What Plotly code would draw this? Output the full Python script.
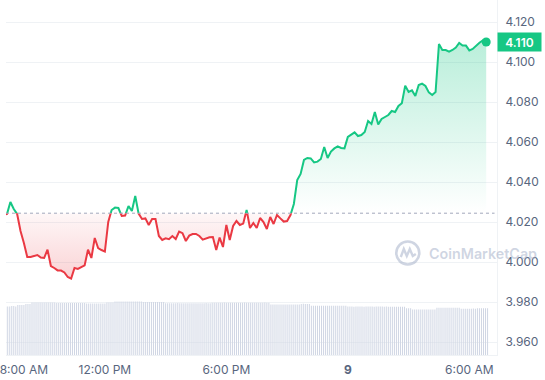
import pandas as pd
import plotly.graph_objects as go

# ---------------- data ----------------
open_price = 4.0244
last_price_label = "4.110"

price = [
    4.0235, 4.0240, 4.0300, 4.0265, 4.0240, 4.0155, 4.0095, 4.0025, 4.0025, 4.0030,
    4.0035, 4.0022, 4.0020, 4.0062, 3.9980, 3.9970, 3.9958, 3.9957, 3.9948, 3.9925,
    3.9917, 3.9970, 3.9965, 3.9974, 3.9983, 4.0062, 4.0020, 4.0120, 4.0070, 4.0060,
    4.0052, 4.0200, 4.0260, 4.0272, 4.0270, 4.0230, 4.0232, 4.0280, 4.0255, 4.0330,
    4.0242, 4.0215, 4.0218, 4.0185, 4.0215, 4.0215, 4.0130, 4.0110, 4.0118, 4.0114,
    4.0130, 4.0115, 4.0152, 4.0144, 4.0105, 4.0132, 4.0140, 4.0140, 4.0130, 4.0112,
    4.0120, 4.0124, 4.0125, 4.0060, 4.0122, 4.0075, 4.0185, 4.0110, 4.0180, 4.0205,
    4.0185, 4.0192, 4.0260, 4.0170, 4.0195, 4.0170, 4.0220, 4.0200, 4.0165, 4.0225,
    4.0190, 4.0235, 4.0218, 4.0202, 4.0205, 4.0235, 4.0290, 4.0410, 4.0440, 4.0510,
    4.0520, 4.0518, 4.0498, 4.0502, 4.0515, 4.0575, 4.0520, 4.0552, 4.0568, 4.0578,
    4.0570, 4.0568, 4.0625, 4.0638, 4.0648, 4.0630, 4.0635, 4.0650, 4.0705, 4.0690,
    4.0750, 4.0688, 4.0715, 4.0725, 4.0735, 4.0755, 4.0750, 4.0780, 4.0794, 4.0882,
    4.0850, 4.0858, 4.0830, 4.0885, 4.0892, 4.0880, 4.0848, 4.0835, 4.0850, 4.1090,
    4.1060, 4.1060, 4.1052, 4.1060, 4.1072, 4.1095, 4.1082, 4.1082, 4.1058, 4.1065,
    4.1082, 4.1096, 4.1108, 4.1100,
]

volume = [
    121.2, 121.0, 121.4, 121.2, 122.6, 122.4, 121.3, 125.0, 125.0, 125.2, 124.9,
    127.4, 127.6, 127.5,
    131.2, 131.4, 131.2, 131.0, 131.2, 131.3, 131.2, 131.1, 131.2, 131.4, 131.2, 131.0,
    130.0, 130.2, 130.0, 129.8, 130.0, 130.1, 130.0, 130.0, 129.9, 130.0, 130.2, 130.0, 130.0, 129.8, 130.0,
    128.8, 128.9, 128.7, 128.8, 128.8, 129.0, 128.8, 128.6, 128.8, 128.8,
    131.2, 131.3, 131.2, 131.0,
    133.8, 133.9, 133.8, 133.7, 133.8, 134.0, 133.8, 133.8, 133.6, 133.8, 133.9, 133.8, 133.8, 133.7,
    132.5, 132.6, 132.5, 132.4, 132.5, 132.5, 132.7, 132.5, 132.4, 132.5, 132.6,
    129.5, 129.6, 129.5, 129.4, 129.5, 129.5, 129.7, 129.5, 129.4, 129.5, 129.6, 129.5,
    129.5, 129.3, 129.5, 129.6, 129.5, 129.5, 129.4, 129.5, 129.7, 129.5, 129.5,
    130.8, 130.9, 130.8, 130.7, 130.8, 130.8, 131.0, 130.8, 130.6, 130.8, 130.9, 130.8, 130.8, 130.7, 130.8,
    130.8, 131.0, 130.8, 130.6, 130.8, 130.9, 130.8, 130.8, 130.7, 130.8, 130.8, 131.0, 130.8, 130.6,
    126.2, 126.3, 126.2, 126.1, 126.2, 126.2, 126.4, 126.2, 126.0, 126.2, 126.3, 126.2, 126.2, 126.1, 126.2,
    127.8, 127.9, 127.8, 127.7, 127.8,
    123.2, 123.3, 123.2, 123.1, 123.2, 123.2, 123.4, 123.2, 123.0, 123.2, 123.3, 123.2, 123.2, 123.1, 123.2, 123.2, 123.4, 123.2,
    121.0, 121.1, 121.0, 120.9, 121.0, 121.0, 121.2, 121.0, 120.8, 121.0,
    121.1, 121.0, 121.0, 120.9, 121.0, 121.0, 121.2, 121.0, 120.8, 121.0,
    120.5, 120.6, 120.5, 120.4, 120.5, 120.5, 120.7, 120.5, 120.4,
    117.0, 117.1, 116.9,
    113.8, 113.9, 113.8, 113.7, 113.8, 113.8, 114.0, 113.8, 113.6, 113.8, 113.9, 113.8,
    118.2, 118.3, 118.2, 118.1, 118.2, 118.2, 118.4, 118.2, 118.0, 118.2, 118.3, 118.2,
    115.8, 115.9, 115.8, 115.7, 115.8, 115.8, 116.0, 115.8,
    116.8, 116.9, 116.8, 116.7, 116.8, 117.0,
]

price_time = pd.date_range("2024-03-08 07:00", periods=len(price), freq="10min")
volume_time = pd.date_range("2024-03-08 07:00", periods=len(volume), freq="6min")

y_tick_vals = [3.96, 3.98, 4.00, 4.02, 4.04, 4.06, 4.08, 4.10, 4.12]
y_tick_text = ["3.960", "3.980", "4.000", "4.020", "4.040", "4.060", "4.080", "4.100", "4.120"]
x_tick_vals = ["2024-03-08 08:00", "2024-03-08 12:00", "2024-03-08 18:00",
               "2024-03-09 00:00", "2024-03-09 06:00"]
x_tick_text = ["8:00 AM", "12:00 PM", "6:00 PM", "<b>9</b>", "6:00 AM"]

# ---------------- style ----------------
GREEN = "#16c784"
RED = "#ea3943"
GRID = "#eff2f5"
LABEL = "#58667e"
BAR = "rgba(207,214,228,0.99)"
FONT = "Inter, sans-serif"

W, H = 545, 380
M_L, M_R, M_T, M_B = 0, 48, 0, 25
plot_h = H - M_T - M_B

y_hi = 4.131
y_lo = y_hi - plot_h / 2000.0
f = (open_price - y_lo) / (y_hi - y_lo)
vol_top = plot_h * 2.5

fig = go.Figure()

# volume bars (behind)
fig.add_trace(go.Bar(
    x=volume_time, y=volume, yaxis="y4", marker=dict(color=BAR, line=dict(width=0)),
    hoverinfo="skip", showlegend=False,
))

# green part (above open price), clipped by y2 domain
fig.add_trace(go.Scatter(
    x=price_time, y=price, yaxis="y2", mode="lines",
    line=dict(color=GREEN, width=2), fill="tozeroy",
    fillgradient=dict(type="vertical",
                      colorscale=[[0, "rgba(22,199,132,0.0)"], [1, "rgba(22,199,132,0.30)"]],
                      start=open_price, stop=max(price)),
    showlegend=False,
))

# red part (below open price), clipped by y3 domain
fig.add_trace(go.Scatter(
    x=price_time, y=[open_price] * len(price), yaxis="y3", mode="lines",
    line=dict(width=0, color="rgba(0,0,0,0)"), hoverinfo="skip", showlegend=False,
))
fig.add_trace(go.Scatter(
    x=price_time, y=price, yaxis="y3", mode="lines",
    line=dict(color=RED, width=2), fill="tonexty",
    fillgradient=dict(type="vertical",
                      colorscale=[[0, "rgba(234,57,67,0.22)"], [1, "rgba(234,57,67,0.04)"]],
                      start=min(price), stop=open_price),
    showlegend=False,
))

# last point marker
fig.add_trace(go.Scatter(
    x=[price_time[-1]], y=[price[-1]], yaxis="y2", mode="markers",
    marker=dict(color=GREEN, size=9), cliponaxis=False, showlegend=False,
))

fig.update_layout(
    width=W, height=H, autosize=False,
    margin=dict(l=M_L, r=M_R, t=M_T, b=M_B, pad=0),
    paper_bgcolor="white", plot_bgcolor="rgba(0,0,0,0)",
    font=dict(family=FONT, size=12, color=LABEL),
    bargap=0.5,
    xaxis=dict(
        type="date", range=["2024-03-08 07:07", "2024-03-09 07:22"],
        tickvals=x_tick_vals, ticktext=x_tick_text, showgrid=False, zeroline=False,
        showline=True, linecolor=GRID, linewidth=1, ticks="", ticklabelstandoff=4,
        ticklabeloverflow="allow",
        tickfont=dict(size=12, color=LABEL), anchor="y",
    ),
    yaxis=dict(
        side="right", range=[y_lo, y_hi], domain=[0, 1],
        tickvals=y_tick_vals, ticktext=y_tick_text, showgrid=True, gridcolor=GRID,
        gridwidth=1, zeroline=False, showline=True, linecolor=GRID, ticks="",
        ticklabelstandoff=5, tickfont=dict(size=12, color=LABEL), anchor="x",
    ),
    yaxis2=dict(domain=[f, 1], range=[open_price, y_hi], visible=False, anchor="x"),
    yaxis3=dict(domain=[0, f], range=[y_lo, open_price], visible=False, anchor="x"),
    yaxis4=dict(overlaying="y", range=[0, vol_top], visible=False, anchor="x"),
    hovermode=False,
)

# dotted open-price line
fig.add_shape(type="line", xref="paper", yref="y", x0=0, x1=0.995,
              y0=open_price, y1=open_price,
              line=dict(color="#a1a7bb", width=1, dash="dot"), layer="above")

# current price label
fig.add_annotation(xref="paper", yref="y", x=1, y=price[-1], xanchor="left", yanchor="middle",
                   text=last_price_label, showarrow=False, bgcolor=GREEN,
                   font=dict(color="white", size=12, family=FONT, weight=600),
                   width=43, height=18, borderpad=0)

# watermark
WM = "rgba(160,172,198,0.5)"
wx = 406.7 / (W - M_L - M_R)
wy = 1 - 253 / plot_h
fig.add_shape(type="circle", xref="paper", yref="paper", xsizemode="pixel", ysizemode="pixel",
              xanchor=wx, yanchor=wy, x0=-11.5, x1=11.5, y0=-11.5, y1=11.5,
              line=dict(color=WM, width=2.6), layer="above")
fig.add_shape(type="path", xref="paper", yref="paper", xsizemode="pixel", ysizemode="pixel",
              xanchor=wx, yanchor=wy,
              path="M -7,-4 L -4,4 L -1,-3 L 2,4 L 5,-3 L 8,-1",
              line=dict(color=WM, width=2.4), layer="above")
fig.add_annotation(xref="paper", yref="paper", x=426 / (W - M_L - M_R), y=wy,
                   xanchor="left", yanchor="middle", text="CoinMarketCap", showarrow=False,
                   font=dict(color=WM, size=14.3, family=FONT, weight=600))

fig.write_html("out.html", config={"displayModeBar": False},
               post_script="document.body.style.margin='0';")
